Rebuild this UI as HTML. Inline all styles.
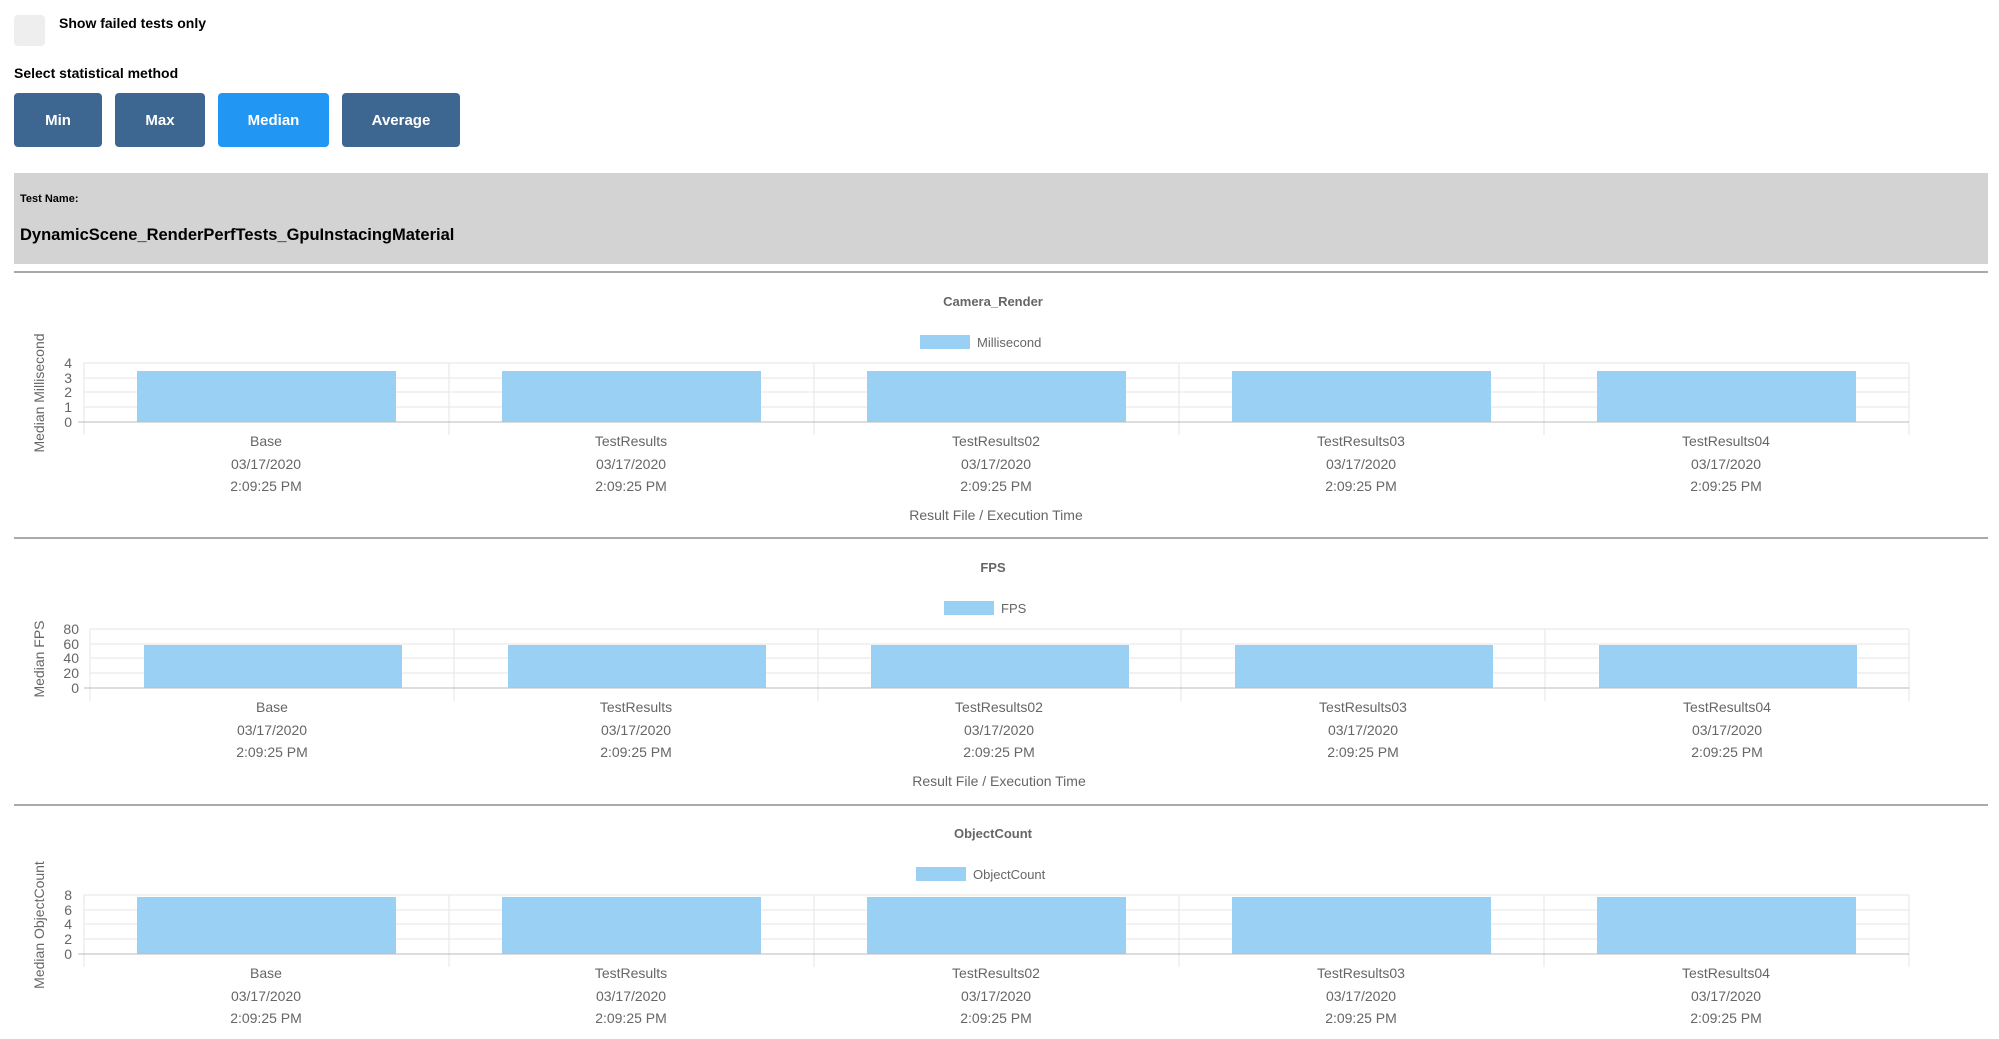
<!DOCTYPE html>
<html><head><meta charset="utf-8"><style>
body{margin:0;width:1999px;height:1039px;background:#fff;font-family:"Liberation Sans",Arial,sans-serif;position:relative;overflow:hidden}
.a{position:absolute}
.btn{position:absolute;top:93px;height:54px;border-radius:4px;background:#3d6690;color:#fff;font-weight:bold;font-size:15px;display:flex;align-items:center;justify-content:center}
svg text{font-family:"Liberation Sans",Arial,sans-serif;fill:#666}
</style></head><body>
<div class="a" style="left:14px;top:15px;width:31px;height:31px;background:#eee;border-radius:4px"></div>
<div class="a" style="left:59px;top:15px;font-size:14px;font-weight:bold">Show failed tests only</div>
<div class="a" style="left:14px;top:65px;font-size:14px;font-weight:bold">Select statistical method</div>
<div class="btn" style="left:14px;width:88px">Min</div>
<div class="btn" style="left:115px;width:90px">Max</div>
<div class="btn" style="left:218px;width:111px;background:#2196f3">Median</div>
<div class="btn" style="left:342px;width:118px">Average</div>
<div class="a" style="left:14px;top:173px;width:1974px;height:91px;background:#d3d3d3"></div>
<div class="a" style="left:20px;top:193px;font-size:11px;font-weight:bold">Test Name:</div>
<div class="a" style="left:20px;top:226px;font-size:16.5px;font-weight:bold">DynamicScene_RenderPerfTests_GpuInstacingMaterial</div>
<svg class="a" style="left:0;top:0" width="1999" height="1039">
<g stroke="#aaa" stroke-width="2"><line x1="14" y1="272" x2="1988" y2="272"/><line x1="14" y1="538" x2="1988" y2="538"/><line x1="14" y1="805" x2="1988" y2="805"/></g>

<g>
<text x="993" y="306" text-anchor="middle" font-size="13" font-weight="bold">Camera_Render</text>
<rect x="920" y="335" width="50" height="14" fill="#9bd0f5"/>
<text x="977" y="347" font-size="13">Millisecond</text>
<g stroke="#e5e5e5"><line x1="84" y1="363" x2="1909" y2="363"/><line x1="84" y1="378" x2="1909" y2="378"/><line x1="84" y1="392" x2="1909" y2="392"/><line x1="84" y1="407" x2="1909" y2="407"/>
<line x1="84" y1="363" x2="84" y2="435"/><line x1="449" y1="363" x2="449" y2="435"/><line x1="814" y1="363" x2="814" y2="435"/><line x1="1179" y1="363" x2="1179" y2="435"/><line x1="1544" y1="363" x2="1544" y2="435"/><line x1="1909" y1="363" x2="1909" y2="435"/></g>
<g fill="#9bd0f5"><rect x="137" y="371" width="259" height="51"/><rect x="502" y="371" width="259" height="51"/><rect x="867" y="371" width="259" height="51"/><rect x="1232" y="371" width="259" height="51"/><rect x="1597" y="371" width="259" height="51"/></g>
<line x1="78" y1="422" x2="1909" y2="422" stroke="#bbb"/>
<g font-size="14" text-anchor="end"><text x="72" y="368">4</text><text x="72" y="383">3</text><text x="72" y="397">2</text><text x="72" y="412">1</text><text x="72" y="427">0</text></g>
<text transform="translate(44,393) rotate(-90)" text-anchor="middle" font-size="14">Median Millisecond</text>
<g font-size="14" text-anchor="middle">
<text x="266" y="446">Base</text><text x="266" y="469">03/17/2020</text><text x="266" y="491">2:09:25 PM</text>
<text x="631" y="446">TestResults</text><text x="631" y="469">03/17/2020</text><text x="631" y="491">2:09:25 PM</text>
<text x="996" y="446">TestResults02</text><text x="996" y="469">03/17/2020</text><text x="996" y="491">2:09:25 PM</text>
<text x="1361" y="446">TestResults03</text><text x="1361" y="469">03/17/2020</text><text x="1361" y="491">2:09:25 PM</text>
<text x="1726" y="446">TestResults04</text><text x="1726" y="469">03/17/2020</text><text x="1726" y="491">2:09:25 PM</text>
<text x="996" y="520">Result File / Execution Time</text></g>
</g>

<g transform="translate(0,266)">
<text x="993" y="306" text-anchor="middle" font-size="13" font-weight="bold">FPS</text>
<rect x="944" y="335" width="50" height="14" fill="#9bd0f5"/>
<text x="1001" y="347" font-size="13">FPS</text>
<g stroke="#e5e5e5"><line x1="90" y1="363" x2="1909" y2="363"/><line x1="90" y1="378" x2="1909" y2="378"/><line x1="90" y1="392" x2="1909" y2="392"/><line x1="90" y1="407" x2="1909" y2="407"/>
<line x1="90" y1="363" x2="90" y2="435"/><line x1="454" y1="363" x2="454" y2="435"/><line x1="818" y1="363" x2="818" y2="435"/><line x1="1181" y1="363" x2="1181" y2="435"/><line x1="1545" y1="363" x2="1545" y2="435"/><line x1="1909" y1="363" x2="1909" y2="435"/></g>
<g fill="#9bd0f5"><rect x="144" y="379" width="258" height="43"/><rect x="508" y="379" width="258" height="43"/><rect x="871" y="379" width="258" height="43"/><rect x="1235" y="379" width="258" height="43"/><rect x="1599" y="379" width="258" height="43"/></g>
<line x1="84" y1="422" x2="1909" y2="422" stroke="#bbb"/>
<g font-size="14" text-anchor="end"><text x="79" y="368">80</text><text x="79" y="383">60</text><text x="79" y="397">40</text><text x="79" y="412">20</text><text x="79" y="427">0</text></g>
<text transform="translate(44,393) rotate(-90)" text-anchor="middle" font-size="14">Median FPS</text>
<g font-size="14" text-anchor="middle">
<text x="272" y="446">Base</text><text x="272" y="469">03/17/2020</text><text x="272" y="491">2:09:25 PM</text>
<text x="636" y="446">TestResults</text><text x="636" y="469">03/17/2020</text><text x="636" y="491">2:09:25 PM</text>
<text x="999" y="446">TestResults02</text><text x="999" y="469">03/17/2020</text><text x="999" y="491">2:09:25 PM</text>
<text x="1363" y="446">TestResults03</text><text x="1363" y="469">03/17/2020</text><text x="1363" y="491">2:09:25 PM</text>
<text x="1727" y="446">TestResults04</text><text x="1727" y="469">03/17/2020</text><text x="1727" y="491">2:09:25 PM</text>
<text x="999" y="520">Result File / Execution Time</text></g>
</g>

<g transform="translate(0,532)">
<text x="993" y="306" text-anchor="middle" font-size="13" font-weight="bold">ObjectCount</text>
<rect x="916" y="335" width="50" height="14" fill="#9bd0f5"/>
<text x="973" y="347" font-size="13">ObjectCount</text>
<g stroke="#e5e5e5"><line x1="84" y1="363" x2="1909" y2="363"/><line x1="84" y1="378" x2="1909" y2="378"/><line x1="84" y1="392" x2="1909" y2="392"/><line x1="84" y1="407" x2="1909" y2="407"/>
<line x1="84" y1="363" x2="84" y2="435"/><line x1="449" y1="363" x2="449" y2="435"/><line x1="814" y1="363" x2="814" y2="435"/><line x1="1179" y1="363" x2="1179" y2="435"/><line x1="1544" y1="363" x2="1544" y2="435"/><line x1="1909" y1="363" x2="1909" y2="435"/></g>
<g fill="#9bd0f5"><rect x="137" y="365" width="259" height="57"/><rect x="502" y="365" width="259" height="57"/><rect x="867" y="365" width="259" height="57"/><rect x="1232" y="365" width="259" height="57"/><rect x="1597" y="365" width="259" height="57"/></g>
<line x1="78" y1="422" x2="1909" y2="422" stroke="#bbb"/>
<g font-size="14" text-anchor="end"><text x="72" y="368">8</text><text x="72" y="383">6</text><text x="72" y="397">4</text><text x="72" y="412">2</text><text x="72" y="427">0</text></g>
<text transform="translate(44,393) rotate(-90)" text-anchor="middle" font-size="14">Median ObjectCount</text>
<g font-size="14" text-anchor="middle">
<text x="266" y="446">Base</text><text x="266" y="469">03/17/2020</text><text x="266" y="491">2:09:25 PM</text>
<text x="631" y="446">TestResults</text><text x="631" y="469">03/17/2020</text><text x="631" y="491">2:09:25 PM</text>
<text x="996" y="446">TestResults02</text><text x="996" y="469">03/17/2020</text><text x="996" y="491">2:09:25 PM</text>
<text x="1361" y="446">TestResults03</text><text x="1361" y="469">03/17/2020</text><text x="1361" y="491">2:09:25 PM</text>
<text x="1726" y="446">TestResults04</text><text x="1726" y="469">03/17/2020</text><text x="1726" y="491">2:09:25 PM</text>
</g>
</g>
</svg>
</body></html>
